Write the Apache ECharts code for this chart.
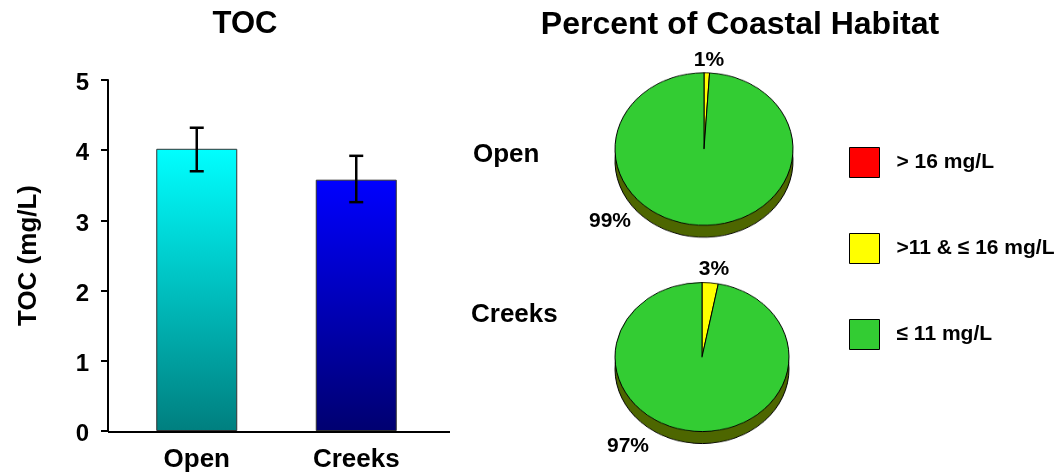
<!DOCTYPE html>
<html>
<head>
<meta charset="utf-8">
<script src="https://cdn.jsdelivr.net/npm/echarts@6/dist/echarts.min.js"></script>
<style>
html,body{margin:0;padding:0;background:#fff;width:1063px;height:473px;overflow:hidden;position:relative;}
#pies{position:absolute;left:0;top:0;width:1063px;height:560px;transform:scaleY(0.857);transform-origin:0 0;}
#main{position:absolute;left:0;top:0;width:1063px;height:473px;}
</style>
</head>
<body>
<div id="pies"></div>
<div id="main"></div>
<script>
// ---- data ----
const barCats = ['Open', 'Creeks'];
const tocMean = [4.02, 3.58];
const tocLow = [3.70, 3.26];
const tocHigh = [4.32, 3.92];
const pieRows = ['Open', 'Creeks'];
const habitatClasses = ['> 16 mg/L', '>11 & \u2264 16 mg/L', '\u2264 11 mg/L'];
const openPct = [0, 1, 99];
const creeksPct = [0, 3, 97];
const chartTitles = ['TOC', 'Percent of Coastal Habitat'];
const yName = 'TOC (mg/L)';

// ---- styles ----
const classColors = ['#ff0000', '#ffff00', '#33cc33'];
const sideColor = '#4d6600';
const K = 0.857;
const FONT = 'Liberation Sans, Arial, sans-serif';

function pieData(vals, colorOverride) {
  return habitatClasses.map((n, i) => ({
    name: n, value: vals[i],
    itemStyle: { color: colorOverride || classColors[i] }
  }));
}

// ---- pies (ellipse via CSS scale) ----
const pieChart = echarts.init(document.getElementById('pies'), null, {renderer: 'canvas'});
const pieGeo = [
  { cx: 704, cy: 149, r: 89, depth: 12, vals: openPct },
  { cx: 702, cy: 357, r: 87, depth: 12, vals: creeksPct }
];
const pieSeries = [];
pieGeo.forEach(g => {
  pieSeries.push({
    type: 'pie', silent: true, animation: false, z: 1,
    center: [g.cx, (g.cy + g.depth) / K], radius: g.r,
    label: { show: false }, labelLine: { show: false },
    itemStyle: { borderColor: '#000', borderWidth: 1 },
    data: pieData(g.vals, sideColor)
  });
  pieSeries.push({
    type: 'pie', silent: true, animation: false, z: 2,
    center: [g.cx, g.cy / K], radius: g.r,
    label: { show: false }, labelLine: { show: false },
    itemStyle: { borderColor: '#000', borderWidth: 1 },
    data: pieData(g.vals)
  });
});
pieChart.setOption({ backgroundColor: 'transparent', series: pieSeries });

// ---- main chart ----
const labelPos = [
  [null, [709, 60], [610, 221]],
  [null, [714, 269], [628, 446]]
];

const chart = echarts.init(document.getElementById('main'), null, {renderer: 'canvas'});
const option = {
  backgroundColor: 'transparent',
  animation: false,
  textStyle: { fontFamily: FONT },
  title: [
    { text: chartTitles[0], left: 240, top: 4, textAlign: 'center',
      textStyle: { fontSize: 31, fontWeight: 'bold', color: '#000', fontFamily: FONT } },
    { text: chartTitles[1], left: 735, top: 4, textAlign: 'center',
      textStyle: { fontSize: 32, fontWeight: 'bold', color: '#000', fontFamily: FONT } },
    { text: pieRows[0], left: 468, top: 137,
      textStyle: { fontSize: 26, fontWeight: 'bold', color: '#000', fontFamily: FONT } },
    { text: pieRows[1], left: 466, top: 297,
      textStyle: { fontSize: 26, fontWeight: 'bold', color: '#000', fontFamily: FONT } }
  ],
  legend: {
    orient: 'vertical', left: 844, top: 142,
    itemWidth: 30, itemHeight: 30, itemGap: 55,
    selectedMode: false,
    icon: 'rect',
    data: habitatClasses.map((n, i) => ({
      name: n, icon: 'rect',
      itemStyle: { color: classColors[i], borderColor: '#000', borderWidth: 1, opacity: 1 }
    })),
    textStyle: { fontSize: 21, fontWeight: 'bold', color: '#000', fontFamily: FONT, padding: [0, 0, 0, 12] }
  },
  grid: { left: 117, right: 627, top: 80, bottom: 41 },
  xAxis: {
    type: 'category', data: barCats,
    axisLine: { show: false },
    axisTick: { show: false },
    axisLabel: { fontSize: 26, fontWeight: 'bold', color: '#000', margin: 16, fontFamily: FONT }
  },
  yAxis: {
    type: 'value', min: 0, max: 5, interval: 1, offset: 9,
    name: yName, nameLocation: 'middle', nameGap: 66, nameRotate: 90,
    nameTextStyle: { fontSize: 26, fontWeight: 'bold', color: '#000', fontFamily: FONT },
    axisLine: { show: true, lineStyle: { color: '#000', width: 2 } },
    axisTick: { show: true, inside: false, length: 7, lineStyle: { color: '#000', width: 2 } },
    splitLine: { show: false },
    axisLabel: {
      margin: 19,
      formatter: '{t|{value}}',
      rich: { t: { fontSize: 24, fontWeight: 'bold', color: '#000', fontFamily: FONT, padding: [7, 0, 0, 0] } }
    }
  },
  graphic: [
    { type: 'line', z: 100, shape: { x1: 108, y1: 432, x2: 450, y2: 432 },
      style: { stroke: '#000', lineWidth: 2 } }
  ],
  series: [
    {
      type: 'bar', barWidth: 81,
      data: tocMean.map((v, i) => ({
        value: v,
        itemStyle: {
          color: new echarts.graphic.LinearGradient(0, 0, 0, 1, i === 0
            ? [{ offset: 0, color: '#00ffff' }, { offset: 1, color: '#007f7f' }]
            : [{ offset: 0, color: '#0000ff' }, { offset: 1, color: '#000070' }]),
          borderColor: '#333', borderWidth: 1
        }
      }))
    },
    {
      type: 'custom', z: 10,
      data: barCats.map((c, i) => [i, tocLow[i], tocHigh[i]]),
      renderItem: function (params, api) {
        const x = api.value(0);
        const lo = api.coord([x, api.value(1)]);
        const hi = api.coord([x, api.value(2)]);
        const hw = 7;
        const st = { stroke: '#000', lineWidth: 2.5 };
        return {
          type: 'group',
          children: [
            { type: 'line', shape: { x1: hi[0], y1: hi[1], x2: lo[0], y2: lo[1] }, style: st },
            { type: 'line', shape: { x1: hi[0] - hw, y1: hi[1], x2: hi[0] + hw, y2: hi[1] }, style: st },
            { type: 'line', shape: { x1: lo[0] - hw, y1: lo[1], x2: lo[0] + hw, y2: lo[1] }, style: st }
          ]
        };
      }
    }
  ].concat(pieGeo.map((g, pi) => ({
    type: 'pie', silent: true, z: 20,
    center: [g.cx, g.cy], radius: 76,
    itemStyle: { color: 'rgba(0,0,0,0)', borderWidth: 0 },
    emphasis: { disabled: true },
    label: {
      show: true, position: 'outside',
      fontSize: 21, fontWeight: 'bold', color: '#000', fontFamily: FONT,
      formatter: p => (p.value > 0 ? p.value + '%' : '')
    },
    labelLine: { show: false },
    labelLayout: function (p) {
      const pos = labelPos[pi][p.dataIndex];
      if (!pos) return {};
      return { x: pos[0], y: pos[1], align: 'center', verticalAlign: 'middle' };
    },
    data: habitatClasses.map((n, i) => ({ name: n, value: g.vals[i] }))
  })))
};
chart.setOption(option);
</script>
</body>
</html>
